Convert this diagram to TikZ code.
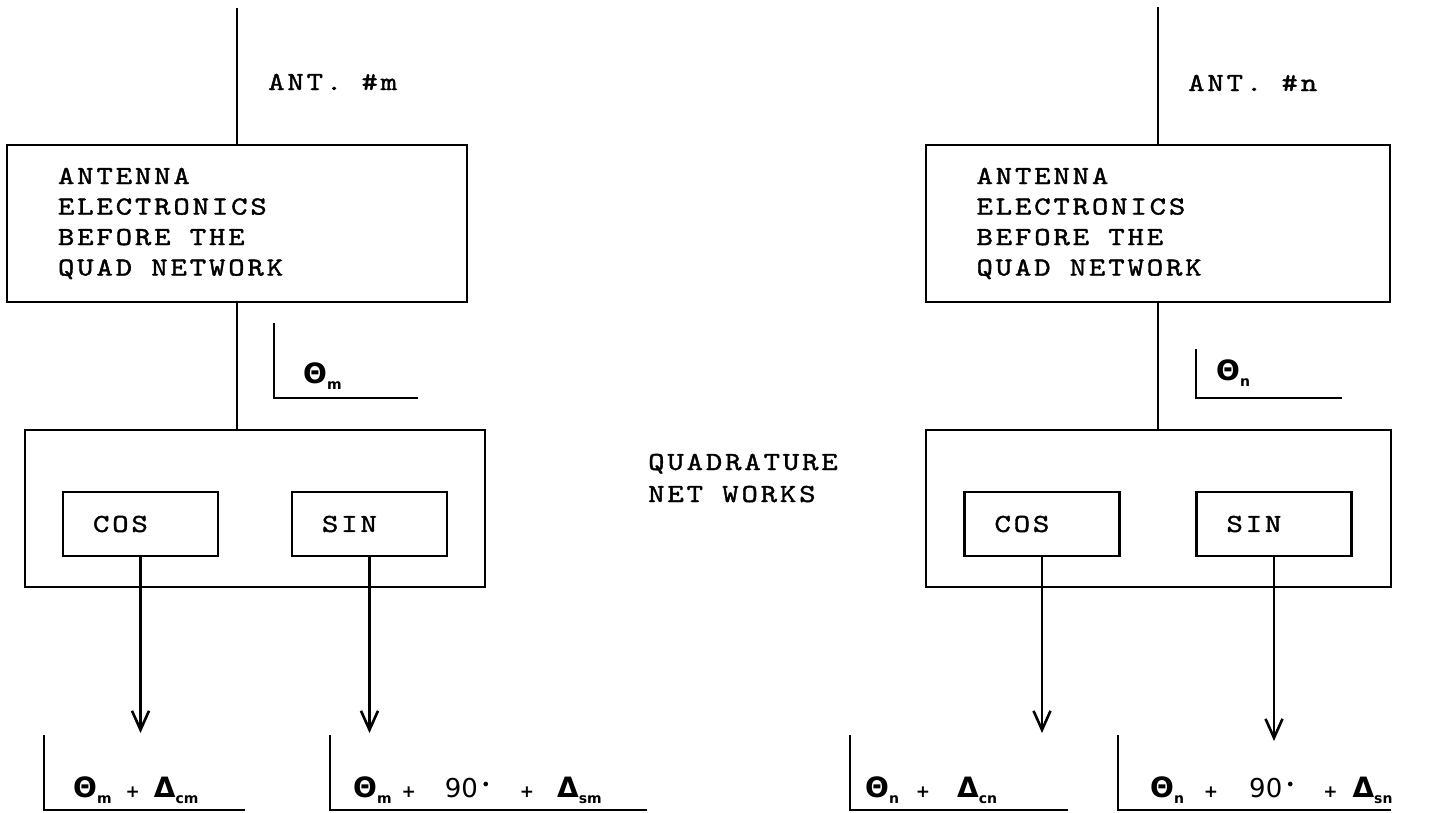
\documentclass[tikz,border=0pt]{standalone}
\usepackage{fontspec}
\usetikzlibrary{arrows.meta}
\newfontfamily\lblfont{DejaVu Sans}
\newfontfamily\twf{lmmono10-regular}[Extension=.otf,LetterSpace=11,FakeStretch=1.2,FakeBold=1.5]
\newcommand\tsp{\hspace*{19.2pt}}
\newcommand\lsub[1]{\raisebox{-6pt}{\fontsize{14}{14}\selectfont #1}}
\newcommand\lplus{{\fontsize{17}{17}\selectfont +}}
\newcommand\ldeg{\raisebox{10pt}{\fontsize{12}{12}\selectfont $\bullet$}}
\begin{document}
\begin{tikzpicture}[x=1pt,y=-1pt,
  wire/.style={line width=2.6pt},
  arr/.style={line width=2.6pt,-{Straight Barb[length=19pt,width=17pt,line width=2.6pt]}},
  twfont/.style={font=\fontsize{26}{30.5}\selectfont\twf},
  bigbox/.style={draw,line width=2.6pt,twfont,minimum height=157pt,align=left,inner ysep=0pt},
  fnbox/.style={draw,line width=2.6pt,twfont,minimum height=64pt,minimum width=155pt,text width=95pt,inner xsep=30pt,inner ysep=0pt,align=left},
  qbox/.style={draw,line width=2.6pt,minimum height=157pt,inner sep=0pt},
  twtext/.style={twfont,inner sep=0pt,anchor=base west},
  lbl/.style={font=\lblfont\bfseries\fontsize{28}{30}\selectfont,inner sep=0pt,anchor=base west}]
\useasboundingbox (0,0) rectangle (1445,812);

% ---------- left channel (m) ----------
\coordinate (antm) at (237,8);
\node[bigbox,minimum width=460pt,text width=358pt,inner xsep=51pt] (aem) at (237,223.5)
  {ANTENNA\\ELECTRONICS\\BEFORE\tsp THE\\QUAD\tsp NETWORK};
\node[twtext] (antmlbl) at (268,90) {ANT.\tsp\#m};
\draw[wire] (antm) -- (aem.north);
\node[qbox,minimum width=460pt] (qm) at (255,508.5) {};
\draw[wire] (aem.south) -- (aem.south |- qm.north);
\node[fnbox] (cosm) at (140.5,524) {COS};
\node[fnbox] (sinm) at (369.5,524) {SIN};
\coordinate (ocm) at (140.5,733);
\coordinate (osm) at (369.5,733);
\draw[arr] (cosm.south) -- (ocm);
\draw[arr] (sinm.south) -- (osm);
% phase bracket
\draw[wire] (274,323) |- (418,398);
\node[lbl] (thm) at (303,383) {Θ\lsub{m}};
% output brackets
\draw[wire] (44,735) |- (245,810);
\node[lbl] (outcm) at (73,797) {Θ\lsub{m}\hspace{14pt}\lplus\hspace{14pt}Δ\lsub{cm}};
\draw[wire] (330,735) |- (647,810);
\node[lbl] (outsm) at (353,797) {Θ\lsub{m}\hspace{10pt}\lplus\hspace{29pt}{\fontsize{26}{30}\selectfont\mdseries 90}\hspace{5pt}\ldeg\hspace{31pt}\lplus\hspace{23pt}Δ\lsub{sm}};

% ---------- middle label ----------
\node[twtext] (quad1) at (648,470) {QUADRATURE};
\node[twtext] (quad2) at (648,502) {NET\tsp WORKS};

% ---------- right channel (n) ----------
\coordinate (antn) at (1158,7);
\node[bigbox,minimum width=464pt,text width=363pt,inner xsep=50.5pt] (aen) at (1158,223.5)
  {ANTENNA\\ELECTRONICS\\BEFORE\tsp THE\\QUAD\tsp NETWORK};
\node[twtext] (antnlbl) at (1188,91) {ANT.\tsp\#n};
\draw[wire] (antn) -- (aen.north);
\node[qbox,minimum width=465pt] (qn) at (1158.5,508.5) {};
\draw[wire] (aen.south) -- (aen.south |- qn.north);
\node[fnbox] (cosn) at (1042,524) {COS};
\node[fnbox] (sinn) at (1274,524) {SIN};
\coordinate (ocn) at (1042,733);
\coordinate (osn) at (1274,741);
\draw[arr] (cosn.south) -- (ocn);
\draw[arr] (sinn.south) -- (osn);
% phase bracket
\draw[wire] (1196,349) |- (1342,398);
\node[lbl] (thn) at (1216,380) {Θ\lsub{n}};
% output brackets
\draw[wire] (850,735) |- (1068,810);
\node[lbl] (outcn) at (865,797) {Θ\lsub{n}\hspace{17pt}\lplus\hspace{27pt}Δ\lsub{cn}};
\draw[wire] (1118,735) |- (1391,810);
\node[lbl] (outsn) at (1150,797) {Θ\lsub{n}\hspace{20pt}\lplus\hspace{31pt}{\fontsize{26}{30}\selectfont\mdseries 90}\hspace{5pt}\ldeg\hspace{30pt}\lplus\hspace{15pt}Δ\lsub{sn}};
\end{tikzpicture}
\end{document}
